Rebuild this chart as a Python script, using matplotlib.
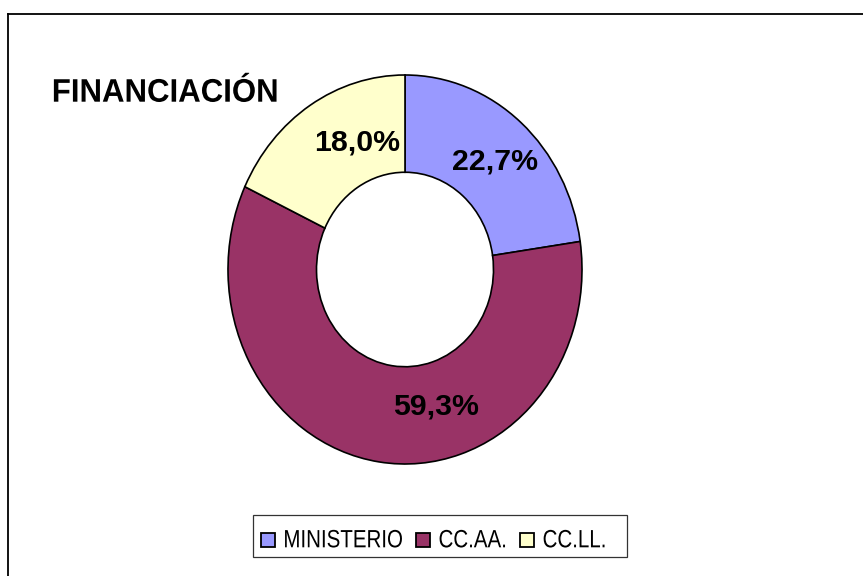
import matplotlib
matplotlib.use("Agg")
import matplotlib.pyplot as plt
from matplotlib.patches import Rectangle
from matplotlib.lines import Line2D
from matplotlib.patheffects import AbstractPathEffect
from matplotlib.transforms import Affine2D

# ---- data ----
categories = ["MINISTERIO", "CC.AA.", "CC.LL."]
values = [22.7, 59.3, 18.0]
colors = ["#9999FF", "#993366", "#FFFFCC"]
title = "FINANCIACIÓN"

W, H = 863, 576
DPI = 100
plt.rcParams['font.family'] = ['Liberation Sans', 'DejaVu Sans']


class Squeeze(AbstractPathEffect):
    """Horizontally condense text glyphs (the reference uses a narrow face)."""
    def __init__(self, sx, anchor='left'):
        super().__init__()
        self.sx = sx
        self.anchor = anchor

    def draw_path(self, renderer, gc, tpath, affine, rgbFace=None):
        ext = tpath.get_extents(affine)
        x0 = ext.x0 if self.anchor == 'left' else (ext.x0 + ext.x1) / 2
        aff = affine + Affine2D().translate(-x0, 0).scale(self.sx, 1).translate(x0, 0)
        renderer.draw_path(gc, tpath, aff, rgbFace)


fig = plt.figure(figsize=(W / DPI, H / DPI), dpi=DPI)
fig.patch.set_facecolor("white")

def fx(px):
    return px / W

def fy(py):
    return 1 - py / H

# outer frame (top and left visible)
fig.add_artist(Line2D([fx(8), fx(8)], [fy(13.5), fy(600)], color="black", lw=1.3,
                      transform=fig.transFigure))
fig.add_artist(Line2D([fx(8), fx(900)], [fy(13.5), fy(13.5)], color="black", lw=1.3,
                      transform=fig.transFigure))

# donut axes (slightly stretched vertically like the reference)
cx, cy, rx, ry = 405, 269.5, 177, 194.5
ax = fig.add_axes([fx(cx - rx), fy(cy + ry), (2 * rx) / W, (2 * ry) / H])
wedges, _ = ax.pie(values, colors=colors, startangle=90, counterclock=False,
                   radius=1.0,
                   wedgeprops=dict(width=0.5, edgecolor="black", linewidth=1.2))
ax.set_aspect('auto')
ax.set_xlim(-1, 1)
ax.set_ylim(-1, 1)
ax.axis('off')
for w in wedges:
    w.set_clip_on(False)

# percentage labels (positions as placed in the reference)
label_pos = [(0.506, 0.512), (0.178, -0.748), (-0.273, 0.614)]
for v, (x, y) in zip(values, label_pos):
    ax.text(x, y, f"{v:.1f}%".replace(".", ","), ha="center", va="baseline",
            fontsize=21.8, fontweight="bold", color="black")

# title
fig.text(fx(51.7), fy(101.7), title, ha="left", va="baseline",
         fontsize=23.5, fontweight="bold", color="black",
         path_effects=[Squeeze(0.955, 'left')])

# legend (manual, condensed font like the reference)
fig.add_artist(Rectangle((fx(253), fy(557)), (627 - 253) / W, (557 - 515) / H,
                         transform=fig.transFigure, facecolor="white",
                         edgecolor="#333333", lw=0.9))
renderer = fig.canvas.get_renderer()
x = 261.0
sq = 14.0
sx = 0.82
base = 547.3
for lab, col in zip(categories, colors):
    fig.add_artist(Rectangle((fx(x), fy(base)), sq / W, sq / H,
                             transform=fig.transFigure, facecolor=col,
                             edgecolor="black", lw=1.3))
    x += sq + 8
    t = fig.text(fx(x), fy(base), lab, ha="left", va="baseline", fontsize=18,
                 color="black", path_effects=[Squeeze(sx, 'left')])
    wpx = t.get_window_extent(renderer).width * sx
    x += wpx + 14

fig.savefig("out.png", dpi=DPI, facecolor="white")
